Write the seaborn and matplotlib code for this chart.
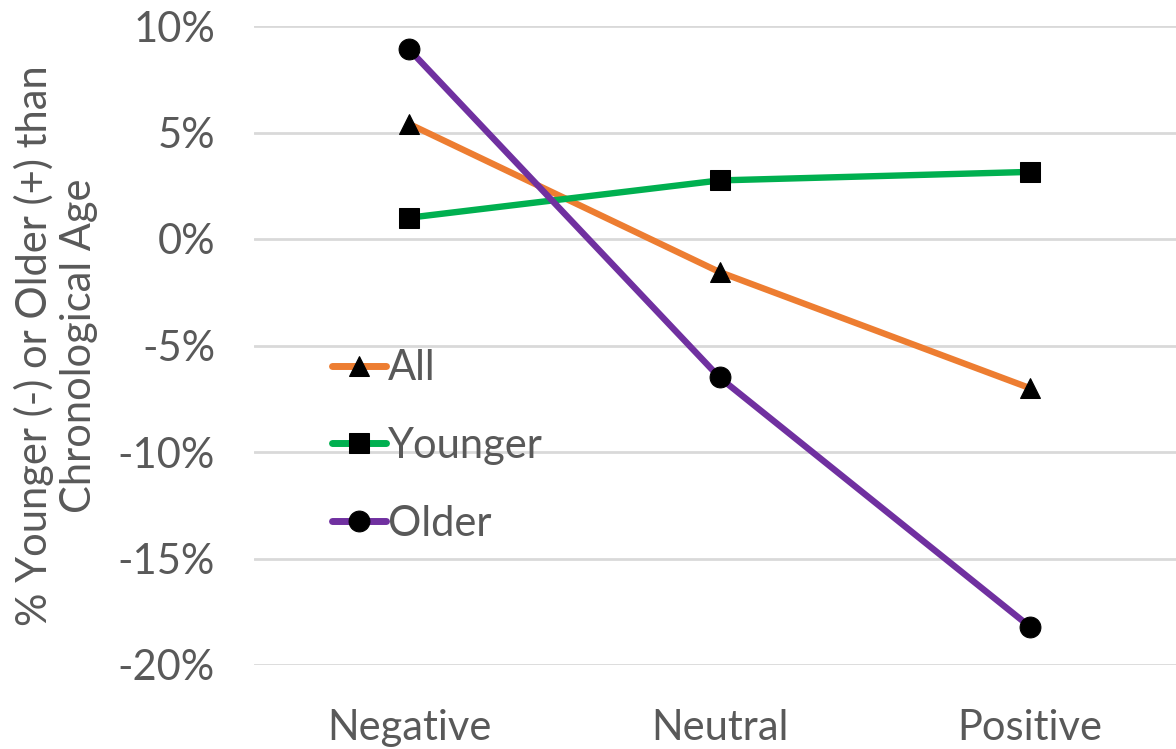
import matplotlib
matplotlib.use("Agg")
import matplotlib.pyplot as plt
import seaborn as sns
import pandas as pd
from matplotlib.ticker import FuncFormatter, MultipleLocator

# Data (percent difference between biological and chronological age)
categories = ["Negative", "Neutral", "Positive"]
all_vals = [5.4, -1.55, -7.0]
younger_vals = [1.0, 2.75, 3.15]
older_vals = [8.9, -6.5, -18.2]
series_names = ["All", "Younger", "Older"]

df = pd.DataFrame({
    "category": categories * 3,
    "x": [0, 1, 2] * 3,
    "value": all_vals + younger_vals + older_vals,
    "group": sum([[n] * 3 for n in series_names], []),
})

sns.set_theme(style="white")
plt.rcParams["font.family"] = ["Lato", "DejaVu Sans"]
text_color = "#595959"
fs = 30

fig = plt.figure(figsize=(11.76, 7.49), dpi=100)
ax = fig.add_axes([254 / 1176, 1 - 665 / 749, (1185 - 254) / 1176, (665 - 26) / 749])

palette = {"All": "#ED7D31", "Younger": "#00B050", "Older": "#7030A0"}
markers = {"All": "^", "Younger": "s", "Older": "o"}

sns.lineplot(
    data=df, x="x", y="value", hue="group", style="group",
    hue_order=series_names, style_order=series_names,
    palette=palette, markers=markers, dashes=False,
    linewidth=4.6, markersize=15,
    markerfacecolor="black", markeredgecolor="black",
    ax=ax, zorder=3,
)

ax.set_xlim(-0.5, 2.5)
ax.set_ylim(-20, 10)
ax.yaxis.set_major_locator(MultipleLocator(5))
ax.yaxis.set_major_formatter(FuncFormatter(lambda v, _: f"{v:.0f}%"))
ax.set_xticks([0, 1, 2])
ax.set_xticklabels(categories)
ax.grid(axis="y", color="#D9D9D9", linewidth=2, zorder=0)
ax.grid(axis="x", visible=False)
for s in ax.spines.values():
    s.set_visible(False)
ax.tick_params(axis="both", length=0, labelsize=fs, colors=text_color)
ax.tick_params(axis="x", pad=32)
ax.tick_params(axis="y", pad=28)
ax.set_xlabel("")
ax.set_ylabel("% Younger (-) or Older (+) than\nChronological Age",
              fontsize=fs, color=text_color, labelpad=14, linespacing=1.2)

handles, labels = ax.get_legend_handles_labels()
leg = ax.legend(
    handles, labels, loc="upper left", bbox_to_anchor=(0.066, 0.52),
    frameon=False, fontsize=fs, handlelength=1.3, handletextpad=0.05,
    labelspacing=0.95, borderaxespad=0,
)
for t in leg.get_texts():
    t.set_color(text_color)
for h in leg.legend_handles:
    h.set_markerfacecolor("black")
    h.set_markeredgecolor("black")
    h.set_linewidth(5)

fig.savefig("out.png", dpi=100)
